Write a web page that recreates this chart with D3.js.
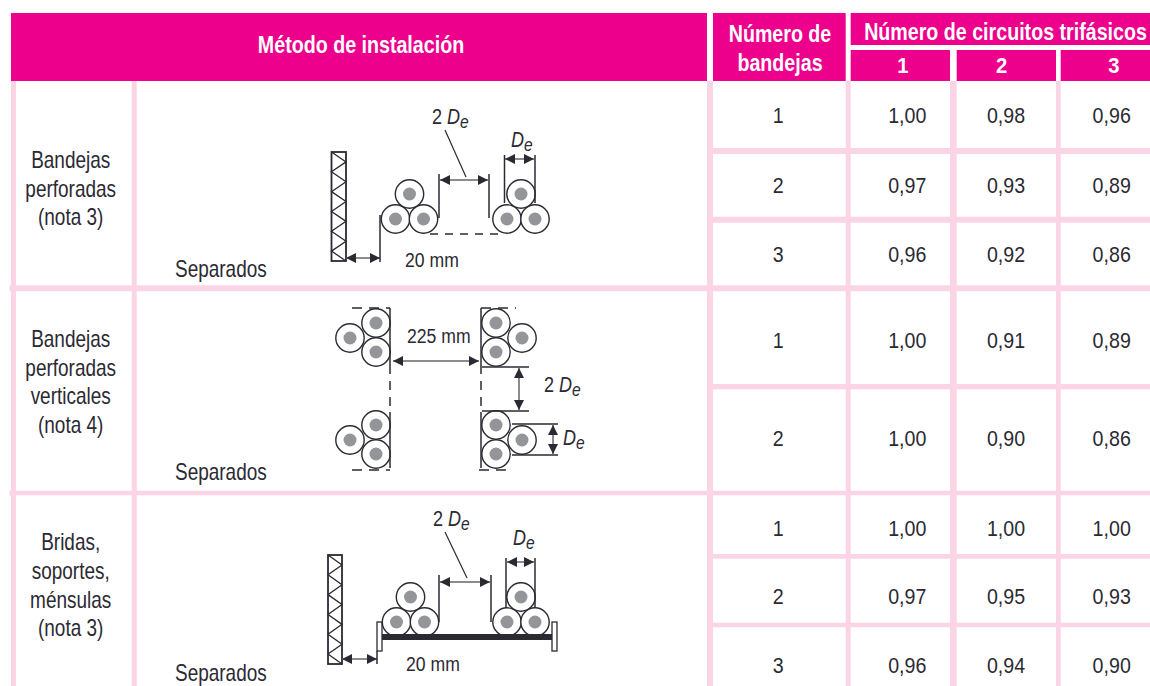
<!DOCTYPE html>
<html>
<head>
<meta charset="utf-8">
<script src="https://cdn.jsdelivr.net/npm/d3@7"></script>
<style>
  html, body { margin: 0; padding: 0; background: #fff; overflow: hidden; }
  text { font-family: "Liberation Sans", Arial, sans-serif; fill: #2b2a33; }
  .head { fill: #fff; font-weight: bold; }
</style>
</head>
<body>
<svg width="1150" height="686"></svg>
<script>
(function (d3) {
  'use strict';

  // table contents
  const methods = [
    ['Bandejas', 'perforadas', '(nota 3)'],
    ['Bandejas', 'perforadas', 'verticales', '(nota 4)'],
    ['Bridas,', 'soportes,', 'ménsulas', '(nota 3)']
  ];
  const trayCounts = [['1', '2', '3'], ['1', '2'], ['1', '2', '3']];
  const circuitLabels = ['1', '2', '3'];
  const factorsSection1 = [['1,00', '0,98', '0,96'], ['0,97', '0,93', '0,89'], ['0,96', '0,92', '0,86']];
  const factorsSection2 = [['1,00', '0,91', '0,89'], ['1,00', '0,90', '0,86']];
  const factorsSection3 = [['1,00', '1,00', '1,00'], ['0,97', '0,95', '0,93'], ['0,96', '0,94', '0,90']];
  const factors = [factorsSection1, factorsSection2, factorsSection3];

  const svg = d3.select('svg');
  const pink = '#ec008c';
  const lightPink = '#fbd5e6';
  const ink = '#2b2a33';

  // columns, the printed grid is not even so these are ordinal
  const circuitX = d3.scaleOrdinal().domain(circuitLabels).range([850.7, 956.7, 1060.7]);
  const circuitW = d3.scaleOrdinal().domain(circuitLabels).range([99.3, 99.3, 90]);
  const valueX = d3.scaleOrdinal().domain(circuitLabels).range([907.3, 1006, 1111.7]);
  const headX = d3.scaleOrdinal().domain(circuitLabels).range([903, 1001.7, 1114]);
  const trayCol = { x0: 713, x1: 845.7, mid: 778.3 };

  // rows per section
  const sections = [
    { y0: 81, y1: 285.3 },
    { y0: 291.3, y1: 490.7 },
    { y0: 495.3, y1: 686 }
  ];
  const rowTop = [
    d3.scaleOrdinal().domain(trayCounts[0]).range([81, 154, 222.7]),
    d3.scaleOrdinal().domain(trayCounts[1]).range([291.3, 389.3]),
    d3.scaleOrdinal().domain(trayCounts[2]).range([495.3, 558.7, 627.3])
  ];
  const rowBottom = [
    d3.scaleOrdinal().domain(trayCounts[0]).range([148, 216.7, 285.3]),
    d3.scaleOrdinal().domain(trayCounts[1]).range([384, 490.7]),
    d3.scaleOrdinal().domain(trayCounts[2]).range([554, 622.7, 686])
  ];
  const rowBase = [
    d3.scaleOrdinal().domain(trayCounts[0]).range([123, 192.5, 261.7]),
    d3.scaleOrdinal().domain(trayCounts[1]).range([348, 446]),
    d3.scaleOrdinal().domain(trayCounts[2]).range([536, 604.3, 672.7])
  ];

  // narrow text helper, the original face is condensed
  const label = (g, x, y, str, opts = {}) => {
    const { size = 22.3, squeeze = 0.88, anchor = 'middle', cls = null } = opts;
    return g.append('text')
      .attr('class', cls)
      .attr('transform', `translate(${x},${y}) scale(${squeeze},1)`)
      .attr('text-anchor', anchor)
      .attr('font-size', size)
      .text(str);
  };

  // background of the body
  svg.append('rect').attr('x', 11).attr('y', 81).attr('width', 1139).attr('height', 605).attr('fill', lightPink);
  svg.append('rect').attr('x', 9.5).attr('y', 285.3).attr('width', 10).attr('height', 6).attr('fill', lightPink);
  svg.append('rect').attr('x', 9.5).attr('y', 490.7).attr('width', 10).attr('height', 5).attr('fill', lightPink);

  const cellsG = svg.append('g');
  sections.forEach((s, i) => {
    // method cell, diagram cell
    cellsG.append('rect').attr('x', 16).attr('y', s.y0).attr('width', 115.7).attr('height', s.y1 - s.y0).attr('fill', '#fff');
    cellsG.append('rect').attr('x', 136.7).attr('y', s.y0).attr('width', 570.3).attr('height', s.y1 - s.y0).attr('fill', '#fff');

    trayCounts[i].forEach((t, r) => {
      const y = rowTop[i](t);
      const h = rowBottom[i](t) - y;
      const base = rowBase[i](t);
      cellsG.append('rect').attr('x', trayCol.x0).attr('y', y).attr('width', trayCol.x1 - trayCol.x0).attr('height', h).attr('fill', '#fff');
      label(cellsG, trayCol.mid, base, t);

      circuitLabels.forEach((c, k) => {
        cellsG.append('rect').attr('x', circuitX(c)).attr('y', y).attr('width', circuitW(c)).attr('height', h).attr('fill', '#fff');
        label(cellsG, valueX(c), base, factors[i][r][k]);
      });
    });
  });

  // header band
  const headG = svg.append('g');
  const headRects = [
    [11, 13, 696, 68],
    [713, 13, 132.7, 68],
    [850.7, 13, 300, 32]
  ];
  headRects.forEach(d => {
    headG.append('rect').attr('x', d[0]).attr('y', d[1]).attr('width', d[2]).attr('height', d[3]).attr('fill', pink);
  });
  const boldOpts = { cls: 'head', size: 23, squeeze: 0.855 };
  circuitLabels.forEach(c => {
    headG.append('rect').attr('x', circuitX(c)).attr('y', 50).attr('width', circuitW(c)).attr('height', 31).attr('fill', pink);
    label(headG, headX(c), 73, c, { cls: 'head', size: 22, squeeze: 0.92 });
  });
  label(headG, 361, 53, 'Método de instalación', boldOpts);
  label(headG, 780, 41.5, 'Número de', boldOpts);
  label(headG, 780, 71, 'bandejas', boldOpts);
  label(headG, 1005.5, 40, 'Número de circuitos trifásicos', boldOpts);

  // method labels and the word "Separados"
  const methodBaselines = [[168, 197, 225], [347, 376, 404, 433], [550, 579, 608, 636]];
  const sepBaselines = [277, 480, 681];
  const textG = svg.append('g');
  methods.forEach((lines, i) => {
    lines.forEach((l, j) => label(textG, 70.7, methodBaselines[i][j], l, { size: 23, squeeze: 0.825 }));
    label(textG, 175, sepBaselines[i], 'Separados', { anchor: 'start', size: 23, squeeze: 0.825 });
  });

  // diagram pieces
  const fig = svg.append('g').attr('stroke-linecap', 'butt');

  const line = (x1, y1, x2, y2, w = 1.5, dash = null, color = ink) =>
    fig.append('line')
      .attr('x1', x1).attr('y1', y1).attr('x2', x2).attr('y2', y2)
      .attr('stroke', color).attr('stroke-width', w)
      .attr('stroke-dasharray', dash);

  const cable = (cx, cy) => {
    fig.append('circle').attr('cx', cx).attr('cy', cy).attr('r', 14.2)
      .attr('fill', '#fff').attr('stroke', ink).attr('stroke-width', 1.4);
    fig.append('circle').attr('cx', cx).attr('cy', cy).attr('r', 6.5).attr('fill', '#939598');
  };

  const head = (x, y, angle) =>
    fig.append('path')
      .attr('d', 'M0,0L10,-5L10,5Z')
      .attr('transform', `translate(${x},${y}) rotate(${angle})`)
      .attr('fill', ink);

  const arrow = (x1, y1, x2, y2) => {
    line(x1, y1, x2, y2, 1.5, null, '#666');
    const a = Math.atan2(y2 - y1, x2 - x1) * 180 / Math.PI;
    head(x1, y1, a);
    head(x2, y2, a + 180);
  };

  const wall = (x, y, w, h) => {
    const steps = 11;
    const zig = d3.line().x(d => d[0]).y(d => d[1]);
    const pts = d3.range(steps + 1).map(k => [x + (k % 2) * w, y + k * h / steps]);
    fig.append('path').attr('d', zig(pts)).attr('fill', 'none').attr('stroke', ink).attr('stroke-width', 1.3);
    fig.append('rect').attr('x', x).attr('y', y).attr('width', w).attr('height', h)
      .attr('fill', 'none').attr('stroke', ink).attr('stroke-width', 1.8);
  };

  const deLabel = (x, y, prefix) => {
    const t = fig.append('text')
      .attr('transform', `translate(${x},${y}) scale(0.82,1)`)
      .attr('font-size', 22);
    if (prefix) t.append('tspan').text(prefix + ' ');
    t.append('tspan').attr('font-style', 'italic').text('D');
    t.append('tspan').attr('font-style', 'italic').attr('font-size', 19).attr('dy', 4).text('e');
  };

  // stack of three cables sitting on two
  const trefoilUp = (cx, cy) => {
    cable(cx - 14, cy + 25);
    cable(cx + 14, cy + 25);
    cable(cx, cy);
  };
  // stack of three cables pointing sideways
  const trefoilSide = (x, y, dir) => {
    cable(x + dir * 26, y + 15);
    cable(x, y);
    cable(x, y + 29);
  };

  const mmOpts = { anchor: 'start', size: 21, squeeze: 0.84 };

  // 1: perforated trays
  wall(331.5, 152, 14.5, 109);
  arrow(346, 258, 380, 258);
  line(380, 215, 380, 262);
  trefoilUp(409.5, 194);
  trefoilUp(521, 194);
  line(439, 174, 439, 218);
  line(489, 174, 489, 218);
  arrow(440, 180, 488, 180);
  line(445, 130, 466, 177, 1.2);
  line(430, 234, 503, 234, 1.5, '8 7');
  line(504.5, 155, 504.5, 203);
  line(535, 155, 535, 203);
  arrow(505, 159, 534, 159);
  label(fig, 405, 267, '20 mm', mmOpts);
  deLabel(432, 124, '2');
  deLabel(511, 147);

  // 2: vertical trays
  trefoilSide(376, 323, -1);
  trefoilSide(496, 323, 1);
  trefoilSide(376, 425, -1);
  trefoilSide(496, 425, 1);
  line(390, 308, 390, 365);
  line(390, 365, 390, 412, 1.5, '9 7');
  line(390, 412, 390, 468);
  line(481, 308, 481, 365);
  line(481, 365, 481, 412, 1.5, '9 7');
  line(481, 412, 481, 468);
  line(352, 308, 390, 308, 1.5, '10 7');
  line(481, 308, 516, 308, 1.5, '10 7');
  line(352, 470, 390, 470, 1.5, '10 7');
  line(479, 470, 511, 470, 1.5, '10 7');
  arrow(393, 361, 479, 361);
  arrow(519, 368, 519, 410);
  line(482, 367, 529, 367);
  line(482, 411, 529, 411);
  arrow(553, 425, 553, 454);
  line(512, 424, 558, 424);
  line(512, 455, 558, 455);
  label(fig, 407, 343, '225 mm', mmOpts);
  deLabel(544, 392, '2');
  deLabel(563, 445);

  // 3: brackets
  wall(328, 555, 14, 109);
  arrow(342, 659, 377, 659);
  line(377, 651, 377, 664);
  fig.append('rect').attr('x', 377).attr('y', 622).attr('width', 5).attr('height', 29)
    .attr('fill', '#fff').attr('stroke', ink).attr('stroke-width', 1.3);
  fig.append('rect').attr('x', 552).attr('y', 622).attr('width', 5).attr('height', 29)
    .attr('fill', '#fff').attr('stroke', ink).attr('stroke-width', 1.3);
  trefoilUp(410.5, 597);
  trefoilUp(521, 597);
  fig.append('rect').attr('x', 382).attr('y', 634).attr('width', 170).attr('height', 6).attr('fill', ink);
  line(439, 575, 439, 622);
  line(491, 575, 491, 622);
  arrow(440, 582, 490, 582);
  line(445, 532, 467, 578, 1.2);
  line(506, 558, 506, 608);
  line(535, 558, 535, 608);
  arrow(507, 562, 534, 562);
  label(fig, 406, 671, '20 mm', mmOpts);
  deLabel(433, 526, '2');
  deLabel(513, 545);
}(d3));
</script>
</body>
</html>
